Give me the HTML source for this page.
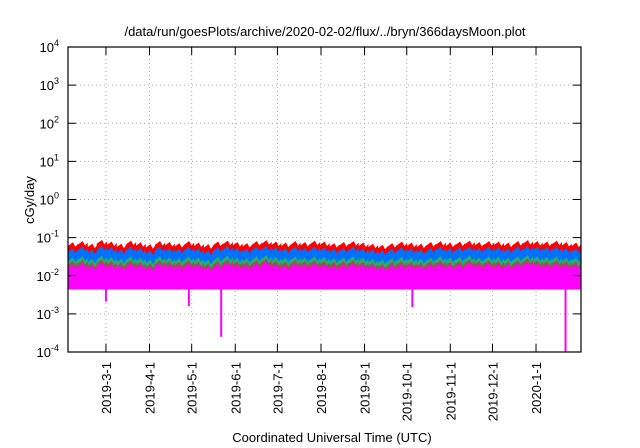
<!DOCTYPE html>
<html><head><meta charset="utf-8"><style>
body{margin:0;background:#fff;}
svg{display:block;font-family:"Liberation Sans",sans-serif;}
</style></head><body>
<svg id="chart" width="640" height="448" viewBox="0 0 640 448" xmlns="http://www.w3.org/2000/svg">
<text x="325" y="36" font-size="13" text-anchor="middle">/data/run/goesPlots/archive/2020-02-02/flux/../bryn/366daysMoon.plot</text>
<text transform="translate(34,200) rotate(-90)" font-size="13" text-anchor="middle">cGy/day</text>
<text x="332" y="442" font-size="13" text-anchor="middle">Coordinated Universal Time (UTC)</text>
<g id="grid"></g><g id="series"></g><g id="axes"></g>
</svg>
<script>
const xTickLabels=["2019-3-1","2019-4-1","2019-5-1","2019-6-1","2019-7-1","2019-8-1","2019-9-1","2019-10-1","2019-11-1","2019-12-1","2020-1-1"];
const xTickDays=[27,58,88,119,149,180,211,241,272,302,333];
const yTickExps=[-4,-3,-2,-1,0,1,2,3,4];
const redVals=[0.065,0.07,0.06,0.075,0.068,0.06,0.072,0.065,0.058,0.07,0.066,0.062,0.07,0.064,0.058,0.068,0.072,0.066,0.062,0.07,0.074,0.068,0.064,0.07,0.066,0.072,0.068,0.062,0.066,0.07,0.064,0.06,0.056,0.062,0.068,0.064,0.06,0.066,0.07,0.064,0.068,0.072,0.066,0.07,0.068,0.064,0.07,0.074,0.07,0.068,0.072,0.066,0.064];
const blueVals=[0.045,0.05,0.042,0.052,0.048,0.042,0.05,0.046,0.04,0.05,0.046,0.044,0.05,0.045,0.04,0.048,0.052,0.046,0.044,0.05,0.052,0.048,0.045,0.05,0.046,0.05,0.048,0.044,0.046,0.05,0.045,0.042,0.04,0.044,0.048,0.045,0.042,0.046,0.05,0.045,0.048,0.05,0.046,0.05,0.048,0.045,0.05,0.052,0.05,0.048,0.05,0.046,0.045];
const greenVals=[0.026,0.028,0.024,0.029,0.027,0.024,0.028,0.026,0.023,0.028,0.026,0.025,0.028,0.026,0.023,0.027,0.029,0.026,0.025,0.028,0.03,0.027,0.026,0.028,0.026,0.028,0.027,0.025,0.026,0.028,0.026,0.024,0.023,0.025,0.027,0.026,0.024,0.026,0.028,0.026,0.027,0.029,0.026,0.028,0.027,0.026,0.028,0.03,0.028,0.027,0.028,0.026,0.026];
const brownVals=[0.021,0.022,0.019,0.023,0.021,0.019,0.022,0.02,0.018,0.022,0.021,0.02,0.022,0.02,0.018,0.021,0.023,0.021,0.02,0.022,0.024,0.021,0.02,0.022,0.021,0.022,0.021,0.02,0.021,0.022,0.02,0.019,0.018,0.02,0.021,0.02,0.019,0.021,0.022,0.02,0.021,0.023,0.021,0.022,0.021,0.02,0.022,0.024,0.022,0.021,0.022,0.021,0.02];
const magentaHigh=[0.017,0.018,0.016,0.019,0.017,0.016,0.018,0.017,0.015,0.018,0.017,0.016,0.018,0.017,0.015,0.017,0.019,0.017,0.016,0.018,0.02,0.017,0.016,0.018,0.017,0.018,0.017,0.016,0.017,0.018,0.017,0.016,0.015,0.016,0.017,0.017,0.016,0.017,0.018,0.017,0.017,0.019,0.017,0.018,0.017,0.017,0.018,0.02,0.018,0.017,0.018,0.017,0.017];
const magentaLow=0.0045;
const dipDays=[27,86,109,245,354];
const dipVals=[0.0021,0.0016,0.00025,0.0015,0.0001];
const L=68,R=581,T=47,B=352,totalDays=365;
const NS="http://www.w3.org/2000/svg";
function xS(d){return L+(d/totalDays)*(R-L);}
function yS(v){return B-(Math.log10(v)+4)/8*(B-T);}
function mk(tag,attrs,parent){const e=document.createElementNS(NS,tag);for(const k in attrs)e.setAttribute(k,attrs[k]);parent.appendChild(e);return e;}
const grid=document.getElementById('grid'),ser=document.getElementById('series'),ax=document.getElementById('axes');
yTickExps.forEach(e=>{const y=yS(Math.pow(10,e));
 if(e>-4&&e<4){const g=mk('line',{x1:L,x2:R,y1:y,y2:y,stroke:'#aaa','stroke-dasharray':'1,3'},grid);
 
 }
 mk('line',{x1:L,x2:L+8,y1:y,y2:y,stroke:'#000'},ax);mk('line',{x1:R-8,x2:R,y1:y,y2:y,stroke:'#000'},ax);
 const t=mk('text',{x:59,y:y+5,'font-size':'13','text-anchor':'end'},ax);
 
 
 t.textContent='10';const s=mk('tspan',{dy:'-6','font-size':'9'},t);s.textContent=String(e);});
xTickDays.forEach((d,i)=>{const x=xS(d);
 const g=mk('line',{x1:x,x2:x,y1:T,y2:B,stroke:'#aaa','stroke-dasharray':'1,3'},grid);
 
 
 mk('line',{x1:x,x2:x,y1:B-8,y2:B,stroke:'#000'},ax);mk('line',{x1:x,x2:x,y1:T,y2:T+8,stroke:'#000'},ax);
 const t=mk('text',{transform:`translate(${x+5},362) rotate(-90)`,'font-size':'13','text-anchor':'end'},ax);
 
 
 t.textContent=xTickLabels[i];});
function area(vals,color,name,low){const n=vals.length,w=totalDays/n;let p=`M${xS(0)},${yS(low)}`;
 vals.forEach((v,i)=>{const x0=xS(i*w),x1=xS((i+1)*w),xm=xS((i+0.5)*w);
 p+=`L${x0},${yS(v*0.9)}L${xm},${yS(v*1.12)}L${(xm+x1)/2},${yS(v*0.85)}L${x1},${yS(v)}`;});
 p+=`L${xS(totalDays)},${yS(low)}Z`;
 const e=mk('path',{d:p,fill:color,stroke:color,'stroke-width':'0.8'},ser);
 
 }
area(redVals,'#ff0000','series-red',magentaLow);
area(blueVals,'#0070ff','series-blue',magentaLow);
area(greenVals,'#20b070','series-green',magentaLow);
area(brownVals,'#a05050','series-brown',magentaLow);
area(magentaHigh,'#ff00ff','series-magenta',magentaLow);
dipDays.forEach((d,i)=>{const x=xS(d);const e=mk('rect',{x:x-1,y:yS(magentaLow),width:2,height:yS(dipVals[i])-yS(magentaLow),fill:'#ff00ff'},ser);
 
 });
const fr=mk('rect',{x:L,y:T,width:R-L,height:B-T,fill:'none',stroke:'#000','stroke-width':'1.2'},ax);


</script>
</body></html>
